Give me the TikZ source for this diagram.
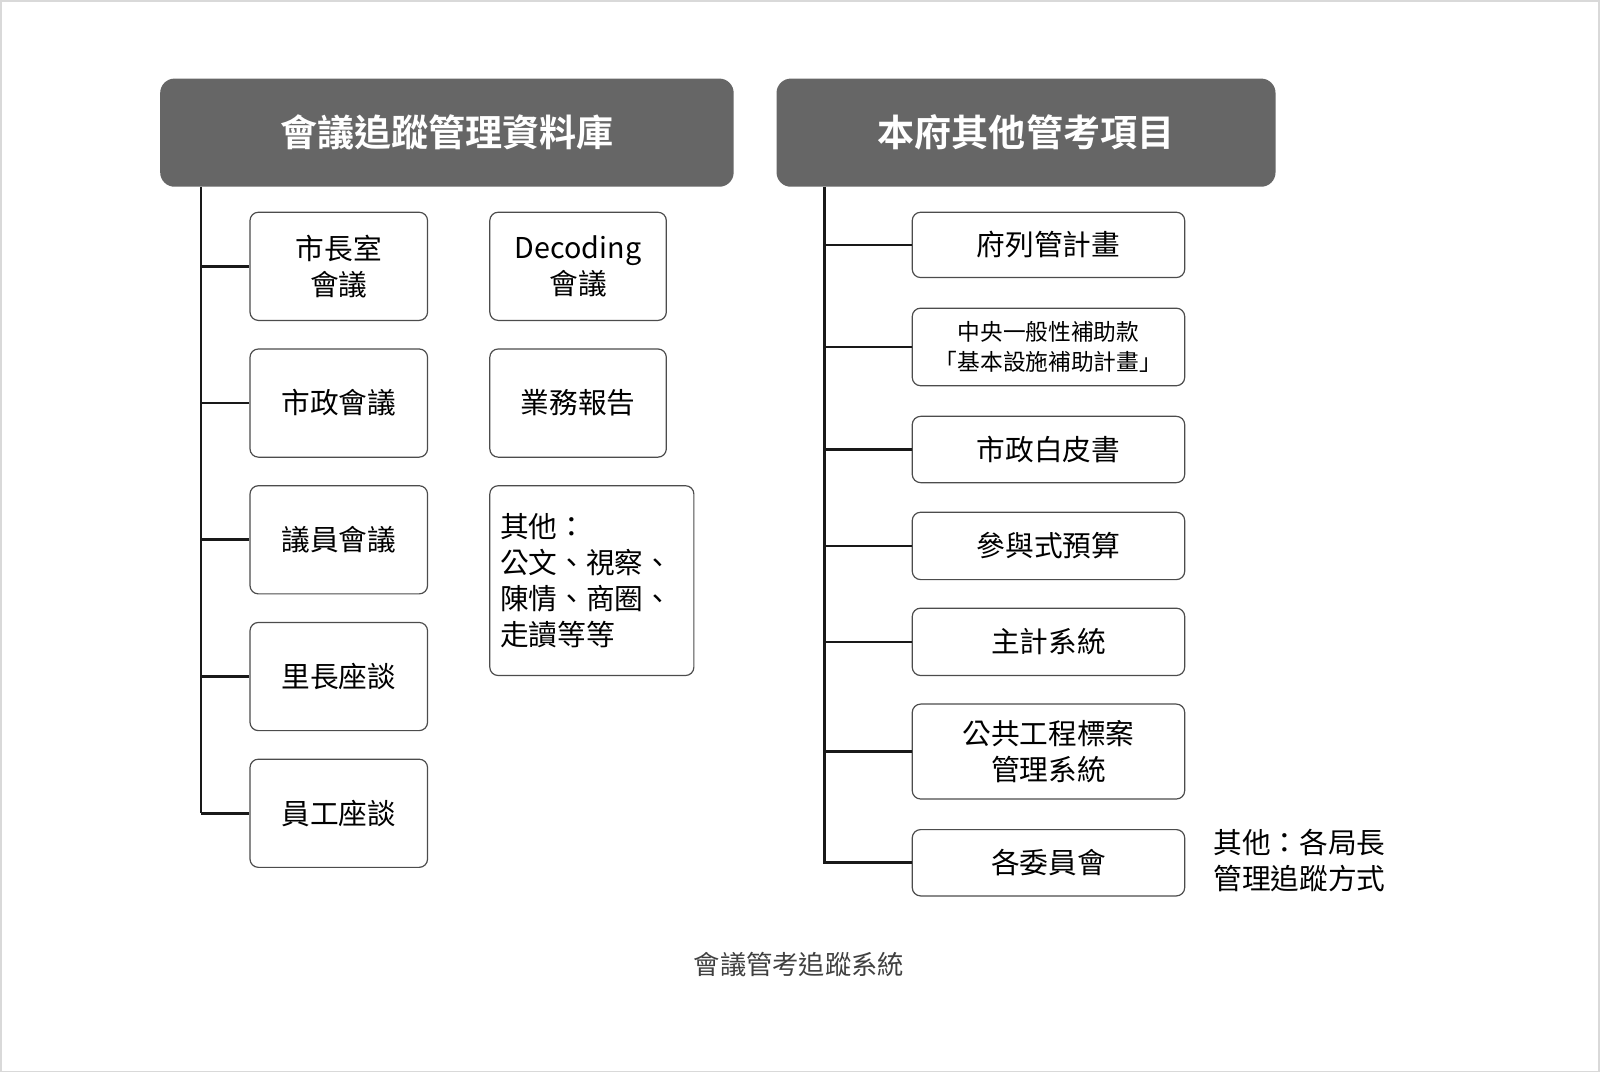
\documentclass[tikz,border=0pt]{standalone}
\usepackage{fontspec}
\setmainfont{Noto Sans CJK TC}
\newfontfamily\cjkb{Noto Sans CJK TC Bold}
\begin{document}
\begin{tikzpicture}[x=0.03cm,y=-0.03cm,
  hdr/.style={fill=black!60,draw=none,rounded corners=12pt,text=white},
  bx/.style={draw=black!70,line width=1pt,rounded corners=7pt,fill=white,align=center,font=\fontsize{24}{30}\selectfont},
  ln/.style={line width=2.2pt,black!90}]
\useasboundingbox (0,0) rectangle (1568,1051);
\draw[black!15,line width=1pt] (1,1) rectangle (1567,1050);
\node[hdr,minimum width=562*0.03cm,minimum height=106*0.03cm,font=\cjkb\fontsize{31}{36}\selectfont] (h1) at (438,130) {會議追蹤管理資料庫};
\node[hdr,minimum width=489*0.03cm,minimum height=106*0.03cm,font=\cjkb\fontsize{31}{36}\selectfont] (h2) at (1005.5,130) {本府其他管考項目};
% left column
\foreach \n/\y/\t in {a/261/{市長室\\會議},b/395/市政會議,c/529/議員會議,d/663/里長座談,e/797/員工座談}{
  \node[bx,minimum width=174*0.03cm,minimum height=106*0.03cm] (\n) at (332,\y) {\t};}
\node[bx,minimum width=173*0.03cm,minimum height=106*0.03cm] (f) at (566.5,261) {Decoding\\會議};
\node[bx,minimum width=173*0.03cm,minimum height=106*0.03cm] (g) at (566.5,395) {業務報告};
\node[bx,minimum width=200*0.03cm,minimum height=186*0.03cm,align=left,text width=180*0.03cm,inner sep=0pt] (o) at (580,569) {其他：\\公文、視察、\\陳情、商圈、\\走讀等等};
\coordinate (lt) at (197,183);
\coordinate (lb) at (197,797);
\draw[ln] (lt) -- (lb);
\foreach \n in {a,b,c,d,e}{\draw[ln] (lt |- \n.west) -- (\n.west);}
% right column
\foreach \n/\y/\h/\t in {r1/240/64/府列管計畫,r3/440.5/65/市政白皮書,r4/535/66/參與式預算,r5/629/66/主計系統,r6/736.5/93/{公共工程標案\\管理系統},r7/845.5/65/各委員會}{
  \node[bx,minimum width=267*0.03cm,minimum height=\h*0.03cm] (\n) at (1027.5,\y) {\t};}
\node[bx,minimum width=267*0.03cm,minimum height=76*0.03cm,font=\fontsize{19}{25}\selectfont] (r2) at (1027.5,340) {中央一般性補助款\\「基本設施補助計畫」};
\coordinate (rt) at (808,183);
\coordinate (rb) at (808,847);
\draw[ln] (rt) -- (rb);
\foreach \n in {r1,r2,r3,r4,r5,r6,r7}{\draw[ln] (rt |- \n.west) -- (\n.west);}
\node[anchor=west,align=left,font=\fontsize{24}{30}\selectfont] (s) at (1185,843) {其他：各局長\\管理追蹤方式};
\node[font=\fontsize{22}{26}\selectfont,text=black!75] (cap) at (783,945) {會議管考追蹤系統};
\end{tikzpicture}
\end{document}
